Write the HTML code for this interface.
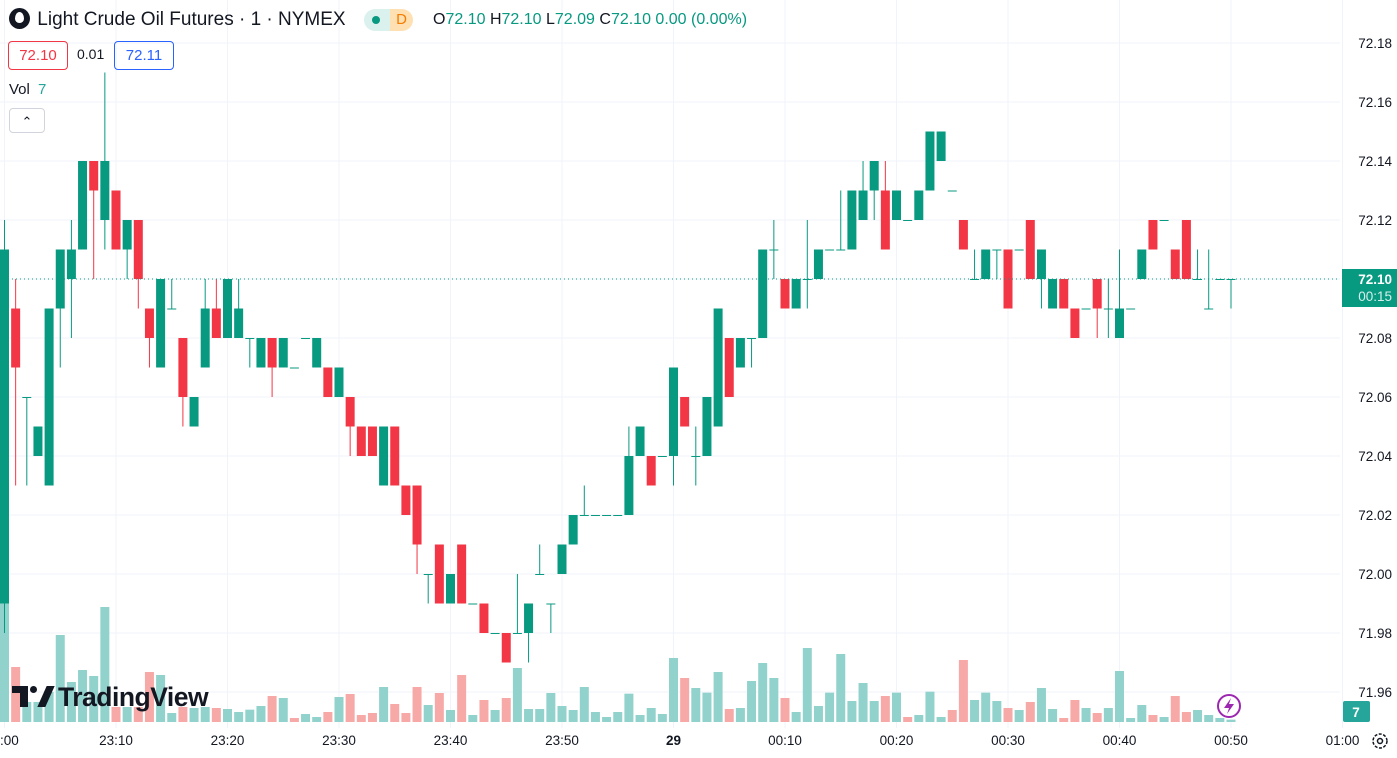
<!DOCTYPE html>
<html><head><meta charset="utf-8">
<style>
html,body{margin:0;padding:0;background:#fff;}
body{width:1397px;height:758px;overflow:hidden;position:relative;font-family:"Liberation Sans",sans-serif;color:#131722;}
svg{position:absolute;left:0;top:0;}
.hdr{position:absolute;white-space:nowrap;}
</style></head>
<body>
<svg id="chart" width="1397" height="758"></svg>

<div class="hdr" style="left:9px;top:8px;font-size:19px;line-height:24px;">
  <span style="display:inline-block;width:21px;height:21px;border-radius:50%;background:#131722;vertical-align:-4px;position:relative;"><span style="position:absolute;left:6px;top:4px;width:9px;height:11px;background:#fff;border-radius:50% 50% 50% 50% / 60% 60% 40% 40%;"></span></span>
  <span style="margin-left:2px;">Light Crude Oil Futures · 1 · NYMEX</span>
</div>
<div class="hdr" style="left:364px;top:9px;width:49px;height:22px;border-radius:11px;overflow:hidden;">
  <span style="position:absolute;left:0;top:0;width:26px;height:22px;background:#dbf1ee;"></span>
  <span style="position:absolute;left:8px;top:7px;width:8px;height:8px;border-radius:50%;background:#089981;"></span>
  <span style="position:absolute;left:26px;top:0;width:23px;height:22px;background:#ffe0b3;color:#f57c00;font-size:15px;line-height:22px;text-align:center;">D</span>
</div>
<div class="hdr" style="left:433px;top:10px;font-size:16px;line-height:20px;color:#089981;">
  <span style="color:#131722">O</span>72.10 <span style="color:#131722">H</span>72.10 <span style="color:#131722">L</span>72.09 <span style="color:#131722">C</span>72.10 0.00 (0.00%)
</div>
<div class="hdr" style="left:8px;top:41px;width:58px;height:27px;border:1px solid #f23645;border-radius:4px;color:#f23645;font-size:15px;line-height:27px;text-align:center;">72.10</div>
<div class="hdr" style="left:77px;top:46px;font-size:14px;">0.01</div>
<div class="hdr" style="left:114px;top:41px;width:58px;height:27px;border:1px solid #2962ff;border-radius:4px;color:#2962ff;font-size:15px;line-height:27px;text-align:center;">72.11</div>
<div class="hdr" style="left:9px;top:81px;font-size:15px;"><span>Vol</span> <span style="color:#26a69a;margin-left:4px;">7</span></div>
<div class="hdr" style="left:9px;top:108px;width:34px;height:23px;border:1px solid #d1d4dc;border-radius:4px;background:#fff;text-align:center;font-size:13px;line-height:26px;">&#8963;</div>

<div class="hdr" style="left:12px;top:681px;font-size:26.5px;font-weight:bold;line-height:32px;letter-spacing:-0.5px;">
  <span style="display:inline-block;width:46px;height:22px;position:relative;vertical-align:-2px;">
    <span style="position:absolute;left:0;top:0;width:16px;height:7px;background:#131722;"></span>
    <span style="position:absolute;left:8px;top:0;width:8px;height:21px;background:#131722;"></span>
    <span style="position:absolute;left:18px;top:0;width:7px;height:7px;border-radius:50%;background:#131722;"></span>
    <span style="position:absolute;left:30px;top:0;width:8px;height:21px;background:#131722;transform:skewX(-24deg);"></span>
  </span>TradingView
</div>

<script>
const priceTicks = [72.18,72.16,72.14,72.12,72.10,72.08,72.06,72.04,72.02,72.00,71.98,71.96];
const timeTickLabels = [":00","23:10","23:20","23:30","23:40","23:50","29","00:10","00:20","00:30","00:40","00:50","01:00"];
const timeTickIndex = [0,10,20,30,40,50,60,70,80,90,100,110,120];
const opens  = [-1,9,6,4,3,9,10,11,14,12,13,11,12,9,7,9,8,5,7,9,8,8,8,7,8,7,7,8,7,7,6,6,5,5,3,5,3,3,0,1,-1,1,-1,-1,-2,-2,-2,-2,0,-1,0,1,2,2,2,2,2,4,4,4,4,6,4,4,5,8,7,8,8,11,10,9,10,10,11,11,11,12,13,13,12,12,12,13,14,13,12,10,10,11,11,11,12,10,9,10,9,9,10,9,8,9,10,12,12,11,12,10,9,10,10];
const highs  = [12,10,6,5,9,11,12,14,14,17,13,12,12,9,10,10,8,6,10,10,10,10,8,8,8,8,7,8,8,7,7,6,5,5,5,5,3,3,0,1,0,1,-1,-1,-2,-2,0,-1,1,-1,1,2,3,2,2,2,5,5,4,4,7,6,5,6,9,8,8,8,11,12,10,10,12,11,11,13,13,14,14,14,13,12,13,15,15,13,12,11,11,11,11,11,12,11,10,10,9,9,10,10,11,9,11,12,12,11,12,11,11,10,10];
const lows   = [-2,3,3,4,3,7,8,11,10,11,11,10,9,7,7,9,5,5,7,8,8,8,7,7,6,7,7,8,7,6,6,4,4,4,3,3,2,0,-1,-1,-1,-1,-1,-2,-2,-3,-2,-3,0,-2,0,1,2,2,2,2,2,4,3,4,3,5,3,4,5,6,7,7,8,10,9,9,9,10,11,11,11,12,12,11,12,12,12,13,14,13,11,10,10,10,9,11,10,9,9,9,8,9,8,8,8,9,10,11,12,10,10,10,9,10,9];
const closes = [11,7,6,5,9,11,11,14,13,14,11,12,10,8,10,9,6,6,9,8,10,9,8,8,7,8,7,8,8,6,7,5,4,4,5,3,2,1,0,-1,0,-1,-1,-2,-2,-3,-2,-1,0,-1,1,2,2,2,2,2,4,5,3,4,7,5,4,6,9,6,8,8,11,11,9,10,10,11,11,11,13,13,14,11,13,12,13,15,15,13,11,10,11,11,9,11,10,11,10,9,8,9,9,9,9,9,11,11,12,10,10,10,9,10,10];
const volumes = [375,165,60,60,90,261,120,156,138,345,45,45,45,150,141,27,45,42,45,42,39,30,37,48,78,72,12,24,15,30,75,84,21,27,105,54,27,105,51,87,36,141,21,66,36,72,162,39,39,87,48,36,105,30,15,30,85,21,42,24,192,132,102,88,150,39,42,123,177,132,72,30,222,48,88,204,63,117,63,78,88,15,21,91,15,36,186,66,88,63,42,36,60,102,39,12,66,42,27,42,153,12,51,21,15,78,30,36,21,12,7];
const volRed = [1,10,12,13,16,19,24,26,29,31,32,33,35,36,37,39,41,43,45,61,65,70,79,81,85,86,90,92,95,96,98,103,105,106];

const BASE = 72.00;
const yP = p => 279 - (p - 72.10) * 2950;
const yT = t => yP(BASE + t / 100);
const xI = i => 4.5 + 11.15 * i;
const yV = v => 722 - v / 3;

const NS = "http://www.w3.org/2000/svg";
const svg = document.getElementById("chart");
function mk(tag, attrs, parent) {
  const e = document.createElementNS(NS, tag);
  for (const k in attrs) e.setAttribute(k, attrs[k]);
  (parent || svg).appendChild(e);
  return e;
}

const grid = mk("g", {});


priceTicks.forEach(p => { mk("line", {x1:0, x2:1340, y1:yP(p), y2:yP(p), stroke:"#f0f3fa", "stroke-width":1}, grid); });
timeTickIndex.forEach(i => { mk("line", {x1:xI(i), x2:xI(i), y1:0, y2:728, stroke:"#f0f3fa", "stroke-width":1}, grid); });

const vg = mk("g", {});


volumes.forEach((v, i) => {
  const r = mk("rect", {x:xI(i)-4.5, y:yV(v), width:9, height:722-yV(v), fill: volRed.includes(i) ? "#f7a9a7" : "#92d2cc"}, vg);
  
  
});

const cg = mk("g", {});


opens.forEach((o, i) => {
  const c = closes[i], h = highs[i], l = lows[i];
  const col = c < o ? "#f23645" : "#089981";
  const x = xI(i);
  const g = mk("g", {}, cg);
  
  
  mk("line", {x1:x, x2:x, y1:yT(h), y2:yT(l), stroke:col, "stroke-width":1}, g);
  const top = yT(Math.max(o, c)), bot = yT(Math.min(o, c));
  mk("rect", {x:x-4.5, y:top, width:9, height:Math.max(1, bot-top), fill:col}, g);
});

const lp = mk("line", {x1:0, x2:1340, y1:yP(72.10), y2:yP(72.10), stroke:"#089981", "stroke-width":1, "stroke-dasharray":"1 3"});



const pa = mk("g", {});


priceTicks.forEach(p => {
  const t = mk("text", {x:1392, y:yP(p)+5, "text-anchor":"end", "font-size":13.5, fill:"#131722", "font-family":"Liberation Sans, sans-serif"}, pa);
  t.textContent = p.toFixed(2);
  
  
});
const badge = mk("g", {});


mk("rect", {x:1342, y:yP(72.10)-10, width:55, height:38, fill:"#089981"}, badge);
const b1 = mk("text", {x:1392, y:yP(72.10)+5, "text-anchor":"end", "font-size":13.5, "font-weight":"bold", fill:"#fff", "font-family":"Liberation Sans, sans-serif"}, badge);
b1.textContent = "72.10";
const b2 = mk("text", {x:1392, y:yP(72.10)+22, "text-anchor":"end", "font-size":13.5, fill:"#d6f0ec", "font-family":"Liberation Sans, sans-serif"}, badge);
b2.textContent = "00:15";
const vb = mk("g", {});


mk("rect", {x:1343, y:701, width:27, height:21, fill:"#26a69a", rx:2}, vb);
const vbt = mk("text", {x:1356, y:717, "text-anchor":"middle", "font-size":13.5, "font-weight":"bold", fill:"#fff", "font-family":"Liberation Sans, sans-serif"}, vb);
vbt.textContent = "7";

const ta = mk("g", {});


timeTickLabels.forEach((s, k) => {
  const x = k === 0 ? 0 : xI(timeTickIndex[k]);
  const t = mk("text", {x:x, y:745, "text-anchor": k === 0 ? "start" : "middle", "font-size":13.5, "font-weight": s === "29" ? "bold" : "normal", fill:"#131722", "font-family":"Liberation Sans, sans-serif"}, ta);
  t.textContent = s;
  
  
});

const gear = mk("g", {});


mk("circle", {cx:1380, cy:741, r:7, fill:"none", stroke:"#131722", "stroke-width":1.5, "stroke-dasharray":"3 1.5"}, gear);
mk("circle", {cx:1380, cy:741, r:2.5, fill:"none", stroke:"#131722", "stroke-width":1.5}, gear);

const lt = mk("g", {});


mk("circle", {cx:1229, cy:706, r:11, fill:"#fff", stroke:"#9c27b0", "stroke-width":2}, lt);
mk("path", {d:"M1231 698 L1224 708 L1229 708 L1227 714 L1234 704 L1229 704 Z", fill:"#9c27b0"}, lt);
</script>
</body></html>
